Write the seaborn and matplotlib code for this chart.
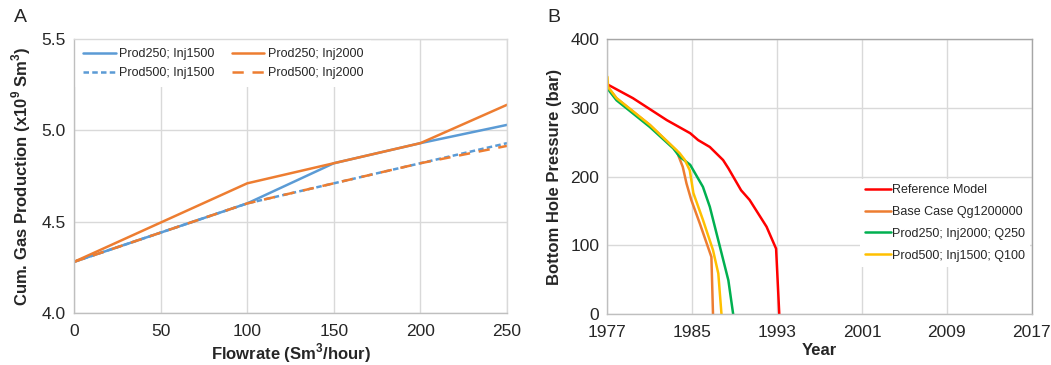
import numpy as np
import pandas as pd
import seaborn as sns
import matplotlib.pyplot as plt

# panel A - cumulative gas production vs flowrate
flowrate = [0, 100, 150, 200, 250]
prod250_inj1500 = [4.28, 4.60, 4.82, 4.93, 5.03]
prod250_inj2000 = [4.28, 4.71, 4.82, 4.93, 5.14]
prod500_inj1500 = [4.28, 4.60, 4.71, 4.82, 4.93]
prod500_inj2000 = [4.28, 4.60, 4.71, 4.82, 4.915]

# panel B - bottom hole pressure vs year
ref_year = [1977.0, 1979.4, 1982.6, 1984.8, 1985.55, 1986.65, 1987.9, 1988.4, 1988.85, 1989.6, 1990.4, 1992.0, 1992.9, 1993.2]
ref_bhp = [334, 314, 282, 263, 253, 243, 224, 212, 200, 180, 166, 127, 95, 0]

base_year = [1977.0, 1977.85, 1981.0, 1983.5, 1984.1, 1984.45, 1984.9, 1985.7, 1986.8, 1986.95]
base_bhp = [331, 314, 275, 238, 214, 190, 166, 132, 83, 0]

green_year = [1977.0, 1977.85, 1981.0, 1983.2, 1983.8, 1984.8, 1986.0, 1986.65, 1987.6, 1988.4, 1988.85]
green_bhp = [328, 311, 272, 241, 229, 217, 185, 156, 98, 49, 0]

yellow_year = [1977.0, 1977.06, 1977.85, 1981.0, 1983.8, 1984.3, 1984.76, 1985.1, 1986.0, 1986.95, 1987.45, 1987.75]
yellow_bhp = [345, 330, 314, 275, 234, 224, 209, 176, 137, 93, 59, 0]

sns.set_theme(style="whitegrid")
plt.rcParams['font.family'] = ['Liberation Sans', 'DejaVu Sans']
plt.rcParams['mathtext.fontset'] = 'custom'
plt.rcParams['mathtext.rm'] = 'Liberation Sans'
plt.rcParams['mathtext.bf'] = 'Liberation Sans:bold'

fig = plt.figure(figsize=(10.51, 3.65), dpi=100)
ax1 = fig.add_axes([0.0704, 0.1425, 0.412, 0.7505])
ax2 = fig.add_axes([0.578, 0.1397, 0.4036, 0.7533])

blue = "#5B9BD5"
orange = "#ED7D31"

# add in column order so the legend reads like the original
sns.lineplot(x=flowrate, y=prod250_inj1500, ax=ax1, color=blue, lw=1.8, label="Prod250; Inj1500")
sns.lineplot(x=flowrate, y=prod500_inj1500, ax=ax1, color=blue, lw=1.8, label="Prod500; Inj1500",
             linestyle=(0, (2.2, 1.3)))
sns.lineplot(x=flowrate, y=prod250_inj2000, ax=ax1, color=orange, lw=1.8, label="Prod250; Inj2000")
sns.lineplot(x=flowrate, y=prod500_inj2000, ax=ax1, color=orange, lw=1.8, label="Prod500; Inj2000",
             linestyle=(0, (4.5, 3.5)))

ax1.set_xlim(0, 250)
ax1.set_ylim(4.0, 5.5)
ax1.set_xticks([0, 50, 100, 150, 200, 250])
ax1.set_yticks([4.0, 4.5, 5.0, 5.5])
ax1.yaxis.set_major_formatter(plt.FormatStrFormatter('%.1f'))
ax1.set_xlabel(r"Flowrate (Sm$^{\mathbf{3}}$/hour)", fontsize=12, fontweight='bold', labelpad=2)
ax1.set_ylabel(r"Cum. Gas Production (x10$^{\mathbf{9}}$ Sm$^{\mathbf{3}}$)", fontsize=12, fontweight='bold', labelpad=6)
leg1 = ax1.legend(loc='upper left', bbox_to_anchor=(0.003, 0.996), ncol=2, fontsize=9, frameon=True, framealpha=1,
                  edgecolor='white', handlelength=2.6, handletextpad=0.25, columnspacing=1.4,
                  labelspacing=0.55, borderaxespad=0.0, borderpad=0.65, fancybox=False)
leg1.get_frame().set_linewidth(0)
leg1.set_zorder(2.4)  # keep the spine visible over the legend box
fig.text(0.013, 0.94, "A", fontsize=14)

# panel B
sns.lineplot(x=ref_year, y=ref_bhp, ax=ax2, color="#FF0000", lw=1.8, label="Reference Model", sort=False)
sns.lineplot(x=base_year, y=base_bhp, ax=ax2, color=orange, lw=1.8, label="Base Case Qg1200000", sort=False)
sns.lineplot(x=green_year, y=green_bhp, ax=ax2, color="#00B050", lw=1.8, label="Prod250; Inj2000; Q250", sort=False)
sns.lineplot(x=yellow_year, y=yellow_bhp, ax=ax2, color="#FFC000", lw=1.8, label="Prod500; Inj1500; Q100", sort=False)

ax2.set_xlim(1977, 2017)
ax2.set_ylim(0, 400)
ax2.set_xticks([1977, 1985, 1993, 2001, 2009, 2017])
ax2.set_yticks([0, 100, 200, 300, 400])
ax2.set_xlabel("Year", fontsize=12, fontweight='bold', labelpad=2)
ax2.set_ylabel("Bottom Hole Pressure (bar)", fontsize=12, fontweight='bold', labelpad=6)
leg2 = ax2.legend(loc='upper left', bbox_to_anchor=(0.595, 0.49), fontsize=9, frameon=True, framealpha=1,
                  edgecolor='white', handlelength=2.1, handletextpad=0.05, labelspacing=0.78,
                  borderaxespad=0.0, borderpad=0.4, fancybox=False)
leg2.get_frame().set_linewidth(0)
fig.text(0.521, 0.94, "B", fontsize=14)

for ax, spc in [(ax1, "#D9D9D9"), (ax2, "#A6A6A6")]:
    ax.set_facecolor("white")
    ax.grid(True, color="#D9D9D9", lw=1.0)
    for s in ax.spines.values():
        s.set_color(spc)
        s.set_linewidth(1.0)
    ax.spines['left'].set_color("#BFBFBF")
    ax.spines['bottom'].set_color("#BFBFBF")
    ax.tick_params(labelsize=12.5, colors="#262626", length=0)
    ax.tick_params(axis='x', pad=8)
    ax.tick_params(axis='y', pad=6)

fig.savefig("out.png", dpi=100)
